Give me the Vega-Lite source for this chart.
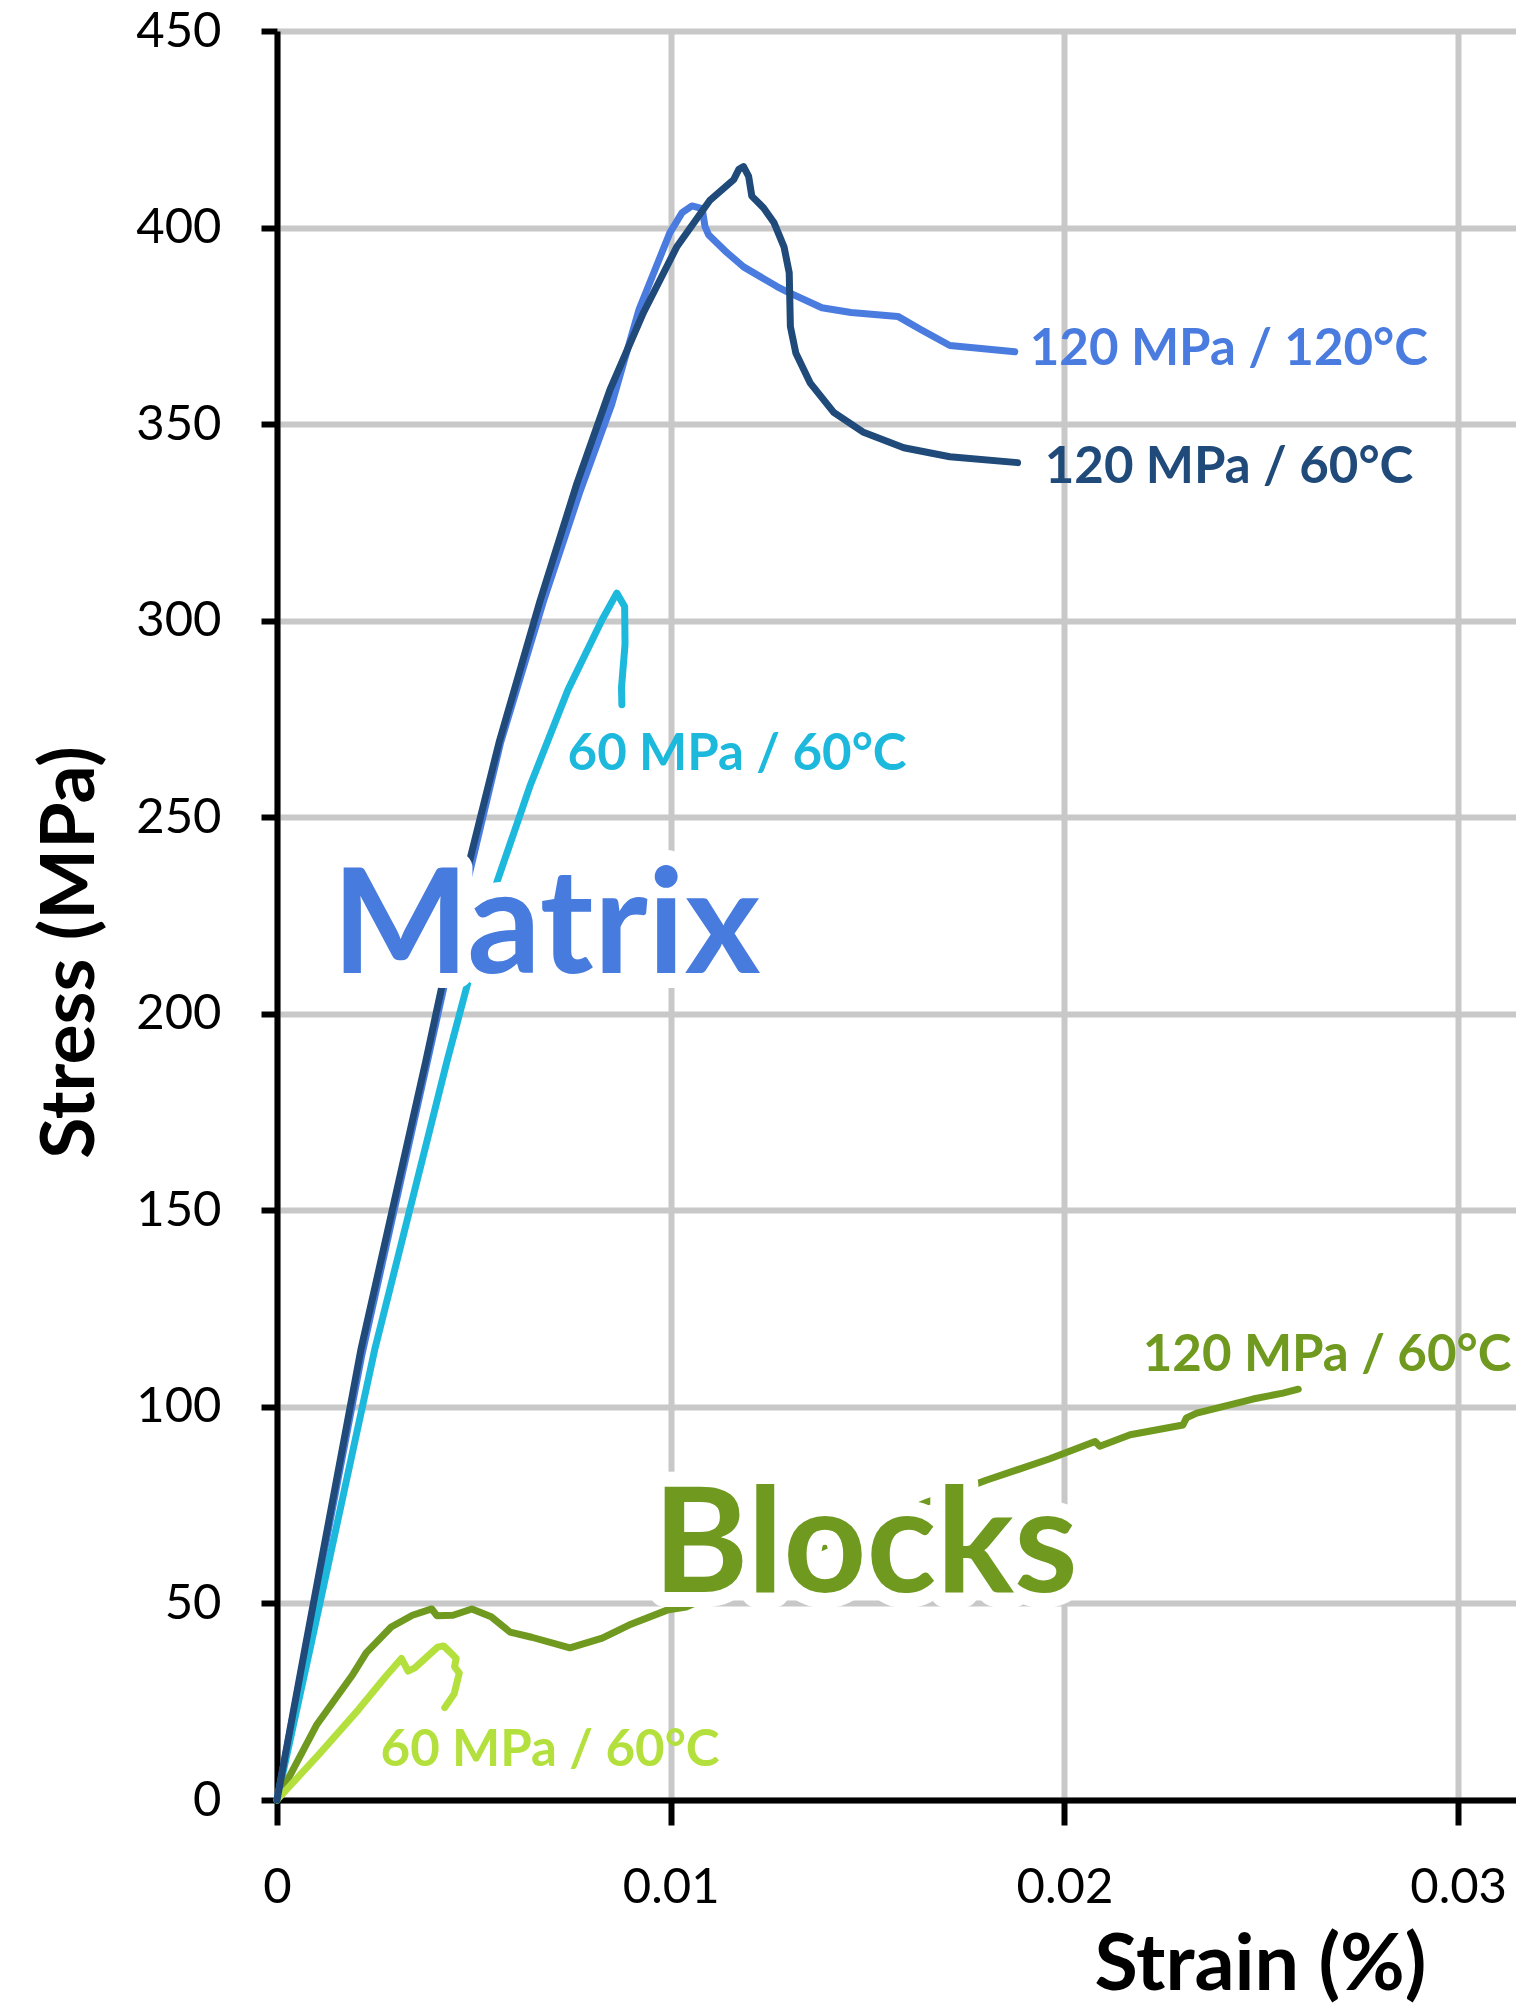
{
  "$schema": "https://vega.github.io/schema/vega-lite/v6.json",
  "width": 1239,
  "height": 1769,
  "autosize": {"type": "none"},
  "padding": {"left": 277, "top": 31, "right": 0, "bottom": 205},
  "background": "white",
  "config": {
    "view": {"stroke": null},
    "font": "Lato",
    "axis": {
      "grid": true,
      "gridColor": "#c8c8c8",
      "gridWidth": 6,
      "domainColor": "black",
      "domainWidth": 6,
      "tickColor": "black",
      "tickWidth": 6,
      "labelFont": "Lato",
      "labelFontSize": 49,
      "labelColor": "black",
      "labelFlush": false,
      "labelOverlap": false,
      "labelBound": false,
      "titleFont": "Lato",
      "titleFontSize": 75,
      "titleFontWeight": "bold",
      "titleColor": "black"
    }
  },
  "datasets": {
    "curves": [
      {"series": "M120_120", "i": 0, "strain": 0, "stress": 0},
      {"series": "M120_120", "i": 1, "strain": 0.0007, "stress": 37},
      {"series": "M120_120", "i": 2, "strain": 0.00215, "stress": 113},
      {"series": "M120_120", "i": 3, "strain": 0.0038, "stress": 187},
      {"series": "M120_120", "i": 4, "strain": 0.0048, "stress": 232},
      {"series": "M120_120", "i": 5, "strain": 0.00568, "stress": 269},
      {"series": "M120_120", "i": 6, "strain": 0.00677, "stress": 305},
      {"series": "M120_120", "i": 7, "strain": 0.0077, "stress": 333},
      {"series": "M120_120", "i": 8, "strain": 0.0085, "stress": 355},
      {"series": "M120_120", "i": 9, "strain": 0.00919, "stress": 379},
      {"series": "M120_120", "i": 10, "strain": 0.00957, "stress": 388.5},
      {"series": "M120_120", "i": 11, "strain": 0.00998, "stress": 398.7},
      {"series": "M120_120", "i": 12, "strain": 0.01029, "stress": 403.8},
      {"series": "M120_120", "i": 13, "strain": 0.01054, "stress": 405.5},
      {"series": "M120_120", "i": 14, "strain": 0.0108, "stress": 404.8},
      {"series": "M120_120", "i": 15, "strain": 0.01087, "stress": 400.3},
      {"series": "M120_120", "i": 16, "strain": 0.01096, "stress": 398.2},
      {"series": "M120_120", "i": 17, "strain": 0.01143, "stress": 393.6},
      {"series": "M120_120", "i": 18, "strain": 0.01185, "stress": 390},
      {"series": "M120_120", "i": 19, "strain": 0.0127, "stress": 385},
      {"series": "M120_120", "i": 20, "strain": 0.01295, "stress": 383.7},
      {"series": "M120_120", "i": 21, "strain": 0.01384, "stress": 379.6},
      {"series": "M120_120", "i": 22, "strain": 0.01458, "stress": 378.4},
      {"series": "M120_120", "i": 23, "strain": 0.01577, "stress": 377.4},
      {"series": "M120_120", "i": 24, "strain": 0.01636, "stress": 374},
      {"series": "M120_120", "i": 25, "strain": 0.01709, "stress": 370},
      {"series": "M120_120", "i": 26, "strain": 0.01874, "stress": 368.4},

      {"series": "M60_60", "i": 0, "strain": 0, "stress": 0},
      {"series": "M60_60", "i": 1, "strain": 0.00083, "stress": 38},
      {"series": "M60_60", "i": 2, "strain": 0.00248, "stress": 114.5},
      {"series": "M60_60", "i": 3, "strain": 0.00432, "stress": 188},
      {"series": "M60_60", "i": 4, "strain": 0.00485, "stress": 208},
      {"series": "M60_60", "i": 5, "strain": 0.00559, "stress": 233.6},
      {"series": "M60_60", "i": 6, "strain": 0.00642, "stress": 257.8},
      {"series": "M60_60", "i": 7, "strain": 0.00739, "stress": 282.4},
      {"series": "M60_60", "i": 8, "strain": 0.00826, "stress": 300.3},
      {"series": "M60_60", "i": 9, "strain": 0.00863, "stress": 307},
      {"series": "M60_60", "i": 10, "strain": 0.00883, "stress": 303.6},
      {"series": "M60_60", "i": 11, "strain": 0.00884, "stress": 294},
      {"series": "M60_60", "i": 12, "strain": 0.00875, "stress": 283},
      {"series": "M60_60", "i": 13, "strain": 0.00876, "stress": 278.6},

      {"series": "B120_60", "i": 0, "strain": 0, "stress": 0},
      {"series": "B120_60", "i": 1, "strain": 0.001, "stress": 19},
      {"series": "B120_60", "i": 2, "strain": 0.00193, "stress": 32},
      {"series": "B120_60", "i": 3, "strain": 0.00227, "stress": 37.5},
      {"series": "B120_60", "i": 4, "strain": 0.0029, "stress": 44},
      {"series": "B120_60", "i": 5, "strain": 0.00344, "stress": 47},
      {"series": "B120_60", "i": 6, "strain": 0.00393, "stress": 48.6},
      {"series": "B120_60", "i": 7, "strain": 0.00406, "stress": 46.9},
      {"series": "B120_60", "i": 8, "strain": 0.00447, "stress": 47},
      {"series": "B120_60", "i": 9, "strain": 0.00495, "stress": 48.6},
      {"series": "B120_60", "i": 10, "strain": 0.00544, "stress": 46.6},
      {"series": "B120_60", "i": 11, "strain": 0.00592, "stress": 42.7},
      {"series": "B120_60", "i": 12, "strain": 0.00647, "stress": 41.4},
      {"series": "B120_60", "i": 13, "strain": 0.00744, "stress": 38.7},
      {"series": "B120_60", "i": 14, "strain": 0.00826, "stress": 41.2},
      {"series": "B120_60", "i": 15, "strain": 0.00894, "stress": 44.5},
      {"series": "B120_60", "i": 16, "strain": 0.00991, "stress": 48.3},
      {"series": "B120_60", "i": 17, "strain": 0.01039, "stress": 49.1},
      {"series": "B120_60", "i": 18, "strain": 0.01514, "stress": 70},
      {"series": "B120_60", "i": 19, "strain": 0.01652, "stress": 75.8},
      {"series": "B120_60", "i": 20, "strain": 0.01803, "stress": 81.4},
      {"series": "B120_60", "i": 21, "strain": 0.01963, "stress": 86.8},
      {"series": "B120_60", "i": 22, "strain": 0.02078, "stress": 91.2},
      {"series": "B120_60", "i": 23, "strain": 0.0209, "stress": 90},
      {"series": "B120_60", "i": 24, "strain": 0.02167, "stress": 92.9},
      {"series": "B120_60", "i": 25, "strain": 0.02301, "stress": 95.4},
      {"series": "B120_60", "i": 26, "strain": 0.0231, "stress": 97.2},
      {"series": "B120_60", "i": 27, "strain": 0.02336, "stress": 98.4},
      {"series": "B120_60", "i": 28, "strain": 0.02479, "stress": 102},
      {"series": "B120_60", "i": 29, "strain": 0.02555, "stress": 103.5},
      {"series": "B120_60", "i": 30, "strain": 0.02594, "stress": 104.5},

      {"series": "B60_60", "i": 0, "strain": 0, "stress": 0},
      {"series": "B60_60", "i": 1, "strain": 0.0011, "stress": 12},
      {"series": "B60_60", "i": 2, "strain": 0.00207, "stress": 23},
      {"series": "B60_60", "i": 3, "strain": 0.00276, "stress": 31.4},
      {"series": "B60_60", "i": 4, "strain": 0.00316, "stress": 36},
      {"series": "B60_60", "i": 5, "strain": 0.00333, "stress": 32.8},
      {"series": "B60_60", "i": 6, "strain": 0.0035, "stress": 33.6},
      {"series": "B60_60", "i": 7, "strain": 0.00408, "stress": 38.9},
      {"series": "B60_60", "i": 8, "strain": 0.00423, "stress": 39.2},
      {"series": "B60_60", "i": 9, "strain": 0.00441, "stress": 37.5},
      {"series": "B60_60", "i": 10, "strain": 0.00455, "stress": 36},
      {"series": "B60_60", "i": 11, "strain": 0.00451, "stress": 33.9},
      {"series": "B60_60", "i": 12, "strain": 0.00463, "stress": 32.3},
      {"series": "B60_60", "i": 13, "strain": 0.0045, "stress": 27},
      {"series": "B60_60", "i": 14, "strain": 0.00426, "stress": 23.5},

      {"series": "M120_60", "i": 0, "strain": 0, "stress": 0},
      {"series": "M120_60", "i": 1, "strain": 0.0007, "stress": 38},
      {"series": "M120_60", "i": 2, "strain": 0.00213, "stress": 114.5},
      {"series": "M120_60", "i": 3, "strain": 0.00378, "stress": 188},
      {"series": "M120_60", "i": 4, "strain": 0.00477, "stress": 234},
      {"series": "M120_60", "i": 5, "strain": 0.00564, "stress": 269},
      {"series": "M120_60", "i": 6, "strain": 0.00668, "stress": 305},
      {"series": "M120_60", "i": 7, "strain": 0.00762, "stress": 335},
      {"series": "M120_60", "i": 8, "strain": 0.00846, "stress": 358.8},
      {"series": "M120_60", "i": 9, "strain": 0.00931, "stress": 378.4},
      {"series": "M120_60", "i": 10, "strain": 0.01016, "stress": 395.2},
      {"series": "M120_60", "i": 11, "strain": 0.011, "stress": 407},
      {"series": "M120_60", "i": 12, "strain": 0.0116, "stress": 412.2},
      {"series": "M120_60", "i": 13, "strain": 0.01173, "stress": 414.8},
      {"series": "M120_60", "i": 14, "strain": 0.01185, "stress": 415.5},
      {"series": "M120_60", "i": 15, "strain": 0.01198, "stress": 413},
      {"series": "M120_60", "i": 16, "strain": 0.01206, "stress": 408},
      {"series": "M120_60", "i": 17, "strain": 0.01236, "stress": 405},
      {"series": "M120_60", "i": 18, "strain": 0.01262, "stress": 401.3},
      {"series": "M120_60", "i": 19, "strain": 0.01288, "stress": 395},
      {"series": "M120_60", "i": 20, "strain": 0.01301, "stress": 388.5},
      {"series": "M120_60", "i": 21, "strain": 0.01304, "stress": 374.8},
      {"series": "M120_60", "i": 22, "strain": 0.01318, "stress": 368},
      {"series": "M120_60", "i": 23, "strain": 0.01354, "stress": 360.5},
      {"series": "M120_60", "i": 24, "strain": 0.01414, "stress": 353},
      {"series": "M120_60", "i": 25, "strain": 0.01488, "stress": 348},
      {"series": "M120_60", "i": 26, "strain": 0.01592, "stress": 344},
      {"series": "M120_60", "i": 27, "strain": 0.01709, "stress": 341.7},
      {"series": "M120_60", "i": 28, "strain": 0.01881, "stress": 340.2}
    ],
    "labels": [
      {"series": "M120_120", "text": "120 MPa / 120°C", "strain": 0.01912, "stress": 365},
      {"series": "M120_60", "text": "120 MPa / 60°C", "strain": 0.0195, "stress": 335},
      {"series": "M60_60", "text": "60 MPa / 60°C", "strain": 0.00738, "stress": 262},
      {"series": "B120_60", "text": "120 MPa / 60°C", "strain": 0.02199, "stress": 109.2},
      {"series": "B60_60", "text": "60 MPa / 60°C", "strain": 0.00263, "stress": 8.6}
    ],
    "bigtext": [
      {"series": "Matrix", "text": "Matrix", "strain": 0.0014, "stress": 210.4},
      {"series": "Blocks", "text": "Blocks", "strain": 0.00955, "stress": 52.9}
    ]
  },
  "encoding": {
    "x": {
      "field": "strain",
      "type": "quantitative",
      "scale": {"domain": [0, 0.03147], "nice": false, "zero": false},
      "axis": {
        "title": "Strain (%)",
        "values": [0, 0.01, 0.02, 0.03],
        "format": "~g",
        "tickSize": 25,
        "labelPadding": 38,
        "titleFontSize": 79,
        "titleX": 1149,
        "titleY": 189,
        "titleAlign": "right",
        "titleBaseline": "alphabetic"
      }
    },
    "y": {
      "field": "stress",
      "type": "quantitative",
      "scale": {"domain": [0, 450], "nice": false},
      "axis": {
        "title": "Stress (MPa)",
        "values": [0, 50, 100, 150, 200, 250, 300, 350, 400, 450],
        "format": "d",
        "tickSize": 16,
        "labelPadding": 40,
        "titleAngle": 270,
        "titleX": -184,
        "titleY": 921,
        "titleAlign": "center",
        "titleBaseline": "alphabetic"
      }
    },
    "color": {
      "field": "series",
      "type": "nominal",
      "legend": null,
      "scale": {
        "domain": ["M120_120", "M120_60", "M60_60", "B120_60", "B60_60", "Matrix", "Blocks"],
        "range": ["#4a7ce0", "#1f4a79", "#1cb9dd", "#6f9a1f", "#b3e03c", "#477bdd", "#6f9a1f"]
      }
    }
  },
  "layer": [
    {
      "data": {"name": "curves"},
      "transform": [{"filter": "datum.series != 'M120_60'"}],
      "mark": {"type": "line", "strokeWidth": 7, "strokeJoin": "round", "strokeCap": "round"},
      "encoding": {"order": {"field": "i", "type": "quantitative"}, "detail": {"field": "series"}}
    },
    {
      "data": {"name": "curves"},
      "transform": [{"filter": "datum.series == 'M120_60'"}],
      "mark": {"type": "line", "strokeWidth": 7, "strokeJoin": "round", "strokeCap": "round"},
      "encoding": {"order": {"field": "i", "type": "quantitative"}}
    },
    {
      "data": {"name": "labels"},
      "mark": {"type": "text", "align": "left", "baseline": "alphabetic", "font": "Lato", "fontSize": 51, "fontWeight": "bold"},
      "encoding": {"text": {"field": "text"}}
    },
    {
      "data": {"name": "bigtext"},
      "mark": {"type": "text", "align": "left", "baseline": "alphabetic", "font": "Lato", "fontSize": 145, "fontWeight": "bold", "stroke": "white", "strokeWidth": 30, "strokeJoin": "round", "fill": "white"},
      "encoding": {"text": {"field": "text"}, "color": {"value": "white"}}
    },
    {
      "data": {"name": "bigtext"},
      "mark": {"type": "text", "align": "left", "baseline": "alphabetic", "font": "Lato", "fontSize": 145, "fontWeight": "bold"},
      "encoding": {"text": {"field": "text"}}
    }
  ]
}
